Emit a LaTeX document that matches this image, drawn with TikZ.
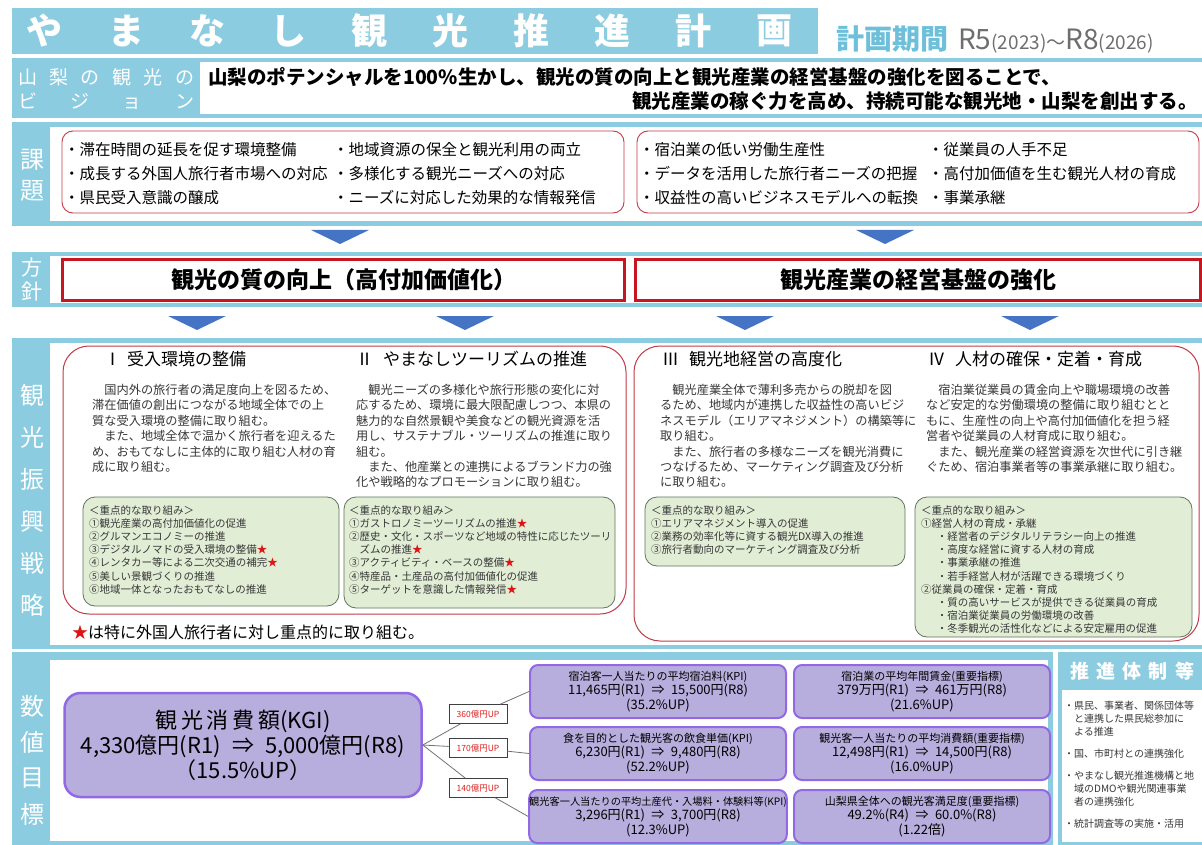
\documentclass[tikz,border=0pt]{standalone}
\usepackage{fontspec}
\setmainfont{Noto Sans CJK JP}
\usetikzlibrary{positioning}

\definecolor{bandblue}{RGB}{140,204,224}
\definecolor{periodblue}{RGB}{110,192,218}
\definecolor{periodgray}{RGB}{110,110,110}
\definecolor{issuered}{RGB}{196,58,72}
\definecolor{policyred}{RGB}{200,22,32}
\definecolor{arrowblue}{RGB}{70,116,196}
\definecolor{paragray}{RGB}{55,55,55}
\definecolor{greenfill}{RGB}{226,237,214}
\definecolor{greenedge}{RGB}{96,116,92}
\definecolor{kpifill}{RGB}{184,174,221}
\definecolor{kpiedge}{RGB}{146,104,228}
\definecolor{upred}{RGB}{222,30,30}
\definecolor{starred}{RGB}{222,20,20}

\newcommand{\redstar}{\textcolor{starred}{★}}

\tikzset{
every node/.style={inner sep=0pt},
band/.style={fill=bandblue},
blank/.style={fill=white},
bandlabel/.style={text=white, font=\fontsize{24}{24}\selectfont},
issuebox/.style={draw=issuered, line width=0.9pt, rounded corners=11pt, fill=white},
issuetext/.style={anchor=north west, align=left, font=\fontsize{15.5}{24}\selectfont},
policybox/.style={draw=policyred, line width=2.5pt, fill=white, minimum height=41pt, font=\fontsize{23}{23}\selectfont\bfseries},
stratbox/.style={draw=issuered, line width=1pt, rounded corners=26pt},
heading/.style={anchor=west, font=\fontsize{17}{17}\selectfont},
paratext/.style={anchor=north west, align=left, text=paragray, font=\fontsize{12.2}{15.4}\selectfont},
focusbox/.style={draw=greenedge, fill=greenfill, line width=0.8pt, rounded corners=12pt},
focustext/.style={anchor=north west, align=left, text=paragray, font=\fontsize{10.5}{13.2}\selectfont},
kgibox/.style={draw=kpiedge, fill=kpifill, line width=2.5pt, rounded corners=16pt, align=center, font=\fontsize{22}{25}\selectfont},
kpibox/.style={draw=kpiedge, fill=kpifill, line width=2pt, rounded corners=8pt, minimum width=256pt, minimum height=53pt, align=center, font=\fontsize{13}{14.5}\selectfont},
upbox/.style={draw=black!75, fill=white, line width=0.6pt, minimum width=58pt, minimum height=19pt, text=upred, font=\fontsize{8.5}{8.5}\selectfont},
link/.style={draw=black!55, line width=0.8pt},
downtri/.style={fill=arrowblue}
}

\begin{document}
\begin{tikzpicture}[x=1pt,y=-1pt]
\useasboundingbox (0,0) rectangle (1202,845);

% title
\fill[band] (12,8) rectangle (818,54);
\foreach \c [count=\i] in {や,ま,な,し,観,光,推,進,計,画}
  \node[text=white, font=\fontsize{36}{36}\selectfont\bfseries] (title\i) at ({45+(\i-1)*81},31) {\c};
\node[anchor=base west] (period) at (836,50) {\textcolor{periodblue}{\fontsize{28}{28}\selectfont\bfseries 計画期間}\hspace{10pt}\textcolor{periodgray}{\fontsize{28}{28}\selectfont R5{\fontsize{19}{19}\selectfont(2023)～}R8{\fontsize{19}{19}\selectfont(2026)}}};

% vision
\fill[band] (12,58) rectangle (1202,118);
\fill[blank] (200,62) rectangle (1202,114);
\node[anchor=west, text width=176pt, text=white, font=\fontsize{19}{19}\selectfont] (vision1) at (18,77) {山\hfill 梨\hfill の\hfill 観\hfill 光\hfill の};
\node[anchor=west, text width=176pt, text=white, font=\fontsize{19}{19}\selectfont] (vision2) at (18,101) {ビ\hfill ジ\hfill ョ\hfill ン};
\node[anchor=west, font=\fontsize{19.5}{19.5}\selectfont\bfseries] (visiontop) at (208,77) {山梨のポテンシャルを100\%生かし、観光の質の向上と観光産業の経営基盤の強化を図ることで、};
\node[anchor=east, font=\fontsize{19.5}{19.5}\selectfont\bfseries] (visionbottom) at (1198,101) {観光産業の稼ぐ力を高め、持続可能な観光地・山梨を創出する。};

% issues
\fill[band] (12,122) rectangle (1202,226);
\fill[blank] (50,127) rectangle (1202,221);
\node[bandlabel] (issue1) at (32,160) {課};
\node[bandlabel] (issue2) at (32,191) {題};
\draw[issuebox] (62,131) rectangle (624,213);
\draw[issuebox] (637,131) rectangle (1199,213);
\node[issuetext] (issueA) at (64,142) {・滞在時間の延長を促す環境整備\\・成長する外国人旅行者市場への対応\\・県民受入意識の醸成};
\node[issuetext] (issueB) at (333,142) {・地域資源の保全と観光利用の両立\\・多様化する観光ニーズへの対応\\・ニーズに対応した効果的な情報発信};
\node[issuetext] (issueC) at (639,142) {・宿泊業の低い労働生産性\\・データを活用した旅行者ニーズの把握\\・収益性の高いビジネスモデルへの転換};
\node[issuetext] (issueD) at (928,142) {・従業員の人手不足\\・高付加価値を生む観光人材の育成\\・事業承継};

\foreach \x in {340,885}
  \fill[downtri] (\x-29,230) -- (\x+29,230) -- (\x,244) -- cycle;

% policy
\fill[band] (12,252) rectangle (1202,307);
\fill[blank] (50,256) rectangle (1202,303);
\node[bandlabel, font=\fontsize{21}{21}\selectfont] (policy1) at (32,268) {方};
\node[bandlabel, font=\fontsize{21}{21}\selectfont] (policy2) at (32,292) {針};
\node[policybox, minimum width=562pt] (quality) at (343.5,280) {観光の質の向上（高付加価値化）};
\node[policybox, minimum width=565pt] (base) at (918,280) {観光産業の経営基盤の強化};

\foreach \x in {197,465,745,1030}
  \fill[downtri] (\x-29,316) -- (\x+29,316) -- (\x,330) -- cycle;

% strategy
\fill[band] (12,338) rectangle (1202,649);
\fill[blank] (50,343) rectangle (1202,645);
\foreach \c [count=\i] in {観,光,振,興,戦,略}
  \node[bandlabel] (strategy\i) at (32,{395+(\i-1)*42}) {\c};
\draw[stratbox] (63,346) rectangle (626,614);
\draw[stratbox] (634,346) rectangle (1199,641);

\node[heading] (headI) at (104,359) {Ⅰ\hspace{6pt}受入環境の整備};
\node[heading] (headII) at (356,359) {Ⅱ\hspace{10pt}やまなしツーリズムの推進};
\node[heading] (headIII) at (662,359) {Ⅲ\hspace{10pt}観光地経営の高度化};
\node[heading] (headIV) at (928,359) {Ⅳ\hspace{10pt}人材の確保・定着・育成};

\node[paratext] (paraI) at (92,384) {　国内外の旅行者の満足度向上を図るため、\\滞在価値の創出につながる地域全体での上\\質な受入環境の整備に取り組む。\\　また、地域全体で温かく旅行者を迎えるた\\め、おもてなしに主体的に取り組む人材の育\\成に取り組む。};
\node[paratext] (paraII) at (356,384) {　観光ニーズの多様化や旅行形態の変化に対\\応するため、環境に最大限配慮しつつ、本県の\\魅力的な自然景観や美食などの観光資源を活\\用し、サステナブル・ツーリズムの推進に取り\\組む。\\　また、他産業との連携によるブランド力の強\\化や戦略的なプロモーションに取り組む。};
\node[paratext] (paraIII) at (660,384) {　観光産業全体で薄利多売からの脱却を図\\るため、地域内が連携した収益性の高いビジ\\ネスモデル（エリアマネジメント）の構築等に\\取り組む。\\　また、旅行者の多様なニーズを観光消費に\\つなげるため、マーケティング調査及び分析\\に取り組む。};
\node[paratext] (paraIV) at (926,384) {　宿泊業従業員の賃金向上や職場環境の改善\\など安定的な労働環境の整備に取り組むとと\\もに、生産性の向上や高付加価値化を担う経\\営者や従業員の人材育成に取り組む。\\　また、観光産業の経営資源を次世代に引き継\\ぐため、宿泊事業者等の事業承継に取り組む。};

\draw[focusbox] (83,497) rectangle (339,606);
\draw[focusbox] (344,497) rectangle (615,608);
\draw[focusbox] (645,497) rectangle (905,566);
\draw[focusbox] (915,497) rectangle (1192,637);

\node[focustext] (focusI) at (89,505) {＜重点的な取り組み＞\\①観光産業の高付加価値化の促進\\②グルマンエコノミーの推進\\③デジタルノマドの受入環境の整備\redstar\\④レンタカー等による二次交通の補完\redstar\\⑤美しい景観づくりの推進\\⑥地域一体となったおもてなしの推進};
\node[focustext] (focusII) at (349,505) {＜重点的な取り組み＞\\①ガストロノミーツーリズムの推進\redstar\\②歴史・文化・スポーツなど地域の特性に応じたツーリ\\\hspace{1em}ズムの推進\redstar\\③アクティビティ・ベースの整備\redstar\\④特産品・土産品の高付加価値化の促進\\⑤ターゲットを意識した情報発信\redstar};
\node[focustext] (focusIII) at (651,505) {＜重点的な取り組み＞\\①エリアマネジメント導入の促進\\②業務の効率化等に資する観光DX導入の推進\\③旅行者動向のマーケティング調査及び分析};
\node[focustext] (focusIV) at (921,505) {＜重点的な取り組み＞\\①経営人材の育成・承継\\\hspace{1.5em}・経営者のデジタルリテラシー向上の推進\\\hspace{1.5em}・高度な経営に資する人材の育成\\\hspace{1.5em}・事業承継の推進\\\hspace{1.5em}・若手経営人材が活躍できる環境づくり\\②従業員の確保・定着・育成\\\hspace{1.5em}・質の高いサービスが提供できる従業員の育成\\\hspace{1.5em}・宿泊業従業員の労働環境の改善\\\hspace{1.5em}・冬季観光の活性化などによる安定雇用の促進};

\node[anchor=west, font=\fontsize{16}{16}\selectfont] (starnote) at (72,632) {\redstar は特に外国人旅行者に対し重点的に取り組む。};

% targets
\fill[band] (12,652) rectangle (1053,845);
\fill[blank] (50,660) rectangle (1048,841);
\foreach \c [count=\i] in {数,値,目,標}
  \node[bandlabel] (target\i) at (32,{706+(\i-1)*36}) {\c};

\node[kgibox, minimum width=357pt, minimum height=104pt] (kgi) at (243,745) {観\,光\,消\,費\,額(KGI)\\4,330億円(R1)\enspace⇒\enspace5,000億円(R8)\\（15.5\%UP）};

\node[kpibox] (kpi1) at (658,691.5) {{\fontsize{11}{14.5}\selectfont 宿泊客一人当たりの平均宿泊料(KPI)}\\11,465円(R1)\enspace⇒\enspace15,500円(R8)\\(35.2\%UP)};
\node[kpibox] (kpi2) at (658,753.5) {{\fontsize{11}{14.5}\selectfont 食を目的とした観光客の飲食単価(KPI)}\\6,230円(R1)\enspace⇒\enspace9,480円(R8)\\(52.2\%UP)};
\node[kpibox] (kpi3) at (658,816.5) {{\fontsize{10.2}{14.5}\selectfont 観光客一人当たりの平均土産代・入場料・体験料等(KPI)}\\3,296円(R1)\enspace⇒\enspace3,700円(R8)\\(12.3\%UP)};
\node[kpibox] (kpi4) at (922,691.5) {{\fontsize{11}{14.5}\selectfont 宿泊業の平均年間賃金(重要指標)}\\379万円(R1)\enspace⇒\enspace461万円(R8)\\(21.6\%UP)};
\node[kpibox] (kpi5) at (922,753.5) {{\fontsize{11}{14.5}\selectfont 観光客一人当たりの平均消費額(重要指標)}\\12,498円(R1)\enspace⇒\enspace14,500円(R8)\\(16.0\%UP)};
\node[kpibox] (kpi6) at (922,816.5) {{\fontsize{11}{14.5}\selectfont 山梨県全体への観光客満足度(重要指標)}\\49.2\%(R4)\enspace⇒\enspace60.0\%(R8)\\(1.22倍)};

\node[upbox] (up360) at (478,714) {360億円UP};
\node[upbox] (up170) at (478,748) {170億円UP};
\node[upbox] (up140) at (478,788) {140億円UP};

\draw[link] (kgi.east) -- (up360) -- (kpi1.west);
\draw[link] (kgi.east) -- (up170) -- (kpi2.west);
\draw[link] (kgi.east) -- (up140) -- (kpi3.west);

% setup
\fill[band] (1058,652) rectangle (1202,845);
\fill[blank] (1062,690) rectangle (1202,842);
\node[anchor=west, text width=124pt, text=white, font=\fontsize{19}{19}\selectfont\bfseries] (setuphead) at (1070,671) {推\hfill 進\hfill 体\hfill 制\hfill 等};
\node[anchor=north west, align=left, text=paragray, font=\fontsize{10}{13}\selectfont] (setuptext) at (1064,701) {・県民、事業者、関係団体等\\\phantom{・}と連携した県民総参加に\\\phantom{・}よる推進\\[9pt]・国、市町村との連携強化\\[9pt]・やまなし観光推進機構と地\\\phantom{・}域のDMOや観光関連事業\\\phantom{・}者の連携強化\\[9pt]・統計調査等の実施・活用};
\end{tikzpicture}
\end{document}
